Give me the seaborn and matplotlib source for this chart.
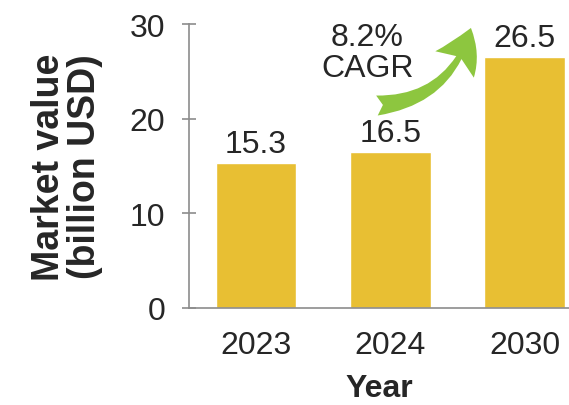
import matplotlib
matplotlib.use("Agg")
import matplotlib.pyplot as plt
import seaborn as sns
import pandas as pd

years = ["2023", "2024", "2030"]
values = [15.3, 16.5, 26.5]
cagr_text = "8.2%\nCAGR"

sns.set_theme(style="white")
plt.rcParams["font.family"] = ["Liberation Sans", "DejaVu Sans"]

df = pd.DataFrame({"Year": years, "Value": values})

FS = 23

fig = plt.figure(figsize=(5.69, 4.06), dpi=100)
ax = fig.add_axes([0.332, 0.239, 0.668, 0.699])
sns.barplot(data=df, x="Year", y="Value", color="#E8BF33", saturation=1,
            width=0.6, ax=ax)

ax.set_xlim(-0.5, 2.33)
ax.set_ylim(0, 30)
ax.set_yticks([0, 10, 20, 30])
for s in ["top", "right"]:
    ax.spines[s].set_visible(False)
for s in ["left", "bottom"]:
    ax.spines[s].set_color("#8c8c8c")
    ax.spines[s].set_linewidth(1.2)
ax.tick_params(axis="y", direction="inout", length=10, width=1.2, color="#8c8c8c",
               labelsize=FS, pad=12, left=True)
ax.tick_params(axis="x", length=0, labelsize=FS, pad=16)

ax.set_xlabel("Year", fontsize=FS, fontweight="bold", labelpad=9)
ax.set_ylabel("Market value\n(billion USD)", fontsize=27, fontweight="bold",
              labelpad=19, linespacing=1.0)

for i, v in enumerate(values):
    ax.text(i, v + 0.4, f"{v}", ha="center", va="bottom", fontsize=FS)

ax.text(0.83, 27.0, cagr_text, ha="center", va="center", fontsize=FS, linespacing=1.05)

ax.annotate("", xy=(1.6, 29.6), xytext=(0.9, 21.4),
            arrowprops=dict(arrowstyle="fancy,head_width=1.05,head_length=0.9,tail_width=0.45",
                            connectionstyle="arc3,rad=0.35", color="#8DC63F", lw=0,
                            mutation_scale=32, shrinkA=0, shrinkB=0),
            annotation_clip=False)

fig.savefig("out.png", dpi=100)
